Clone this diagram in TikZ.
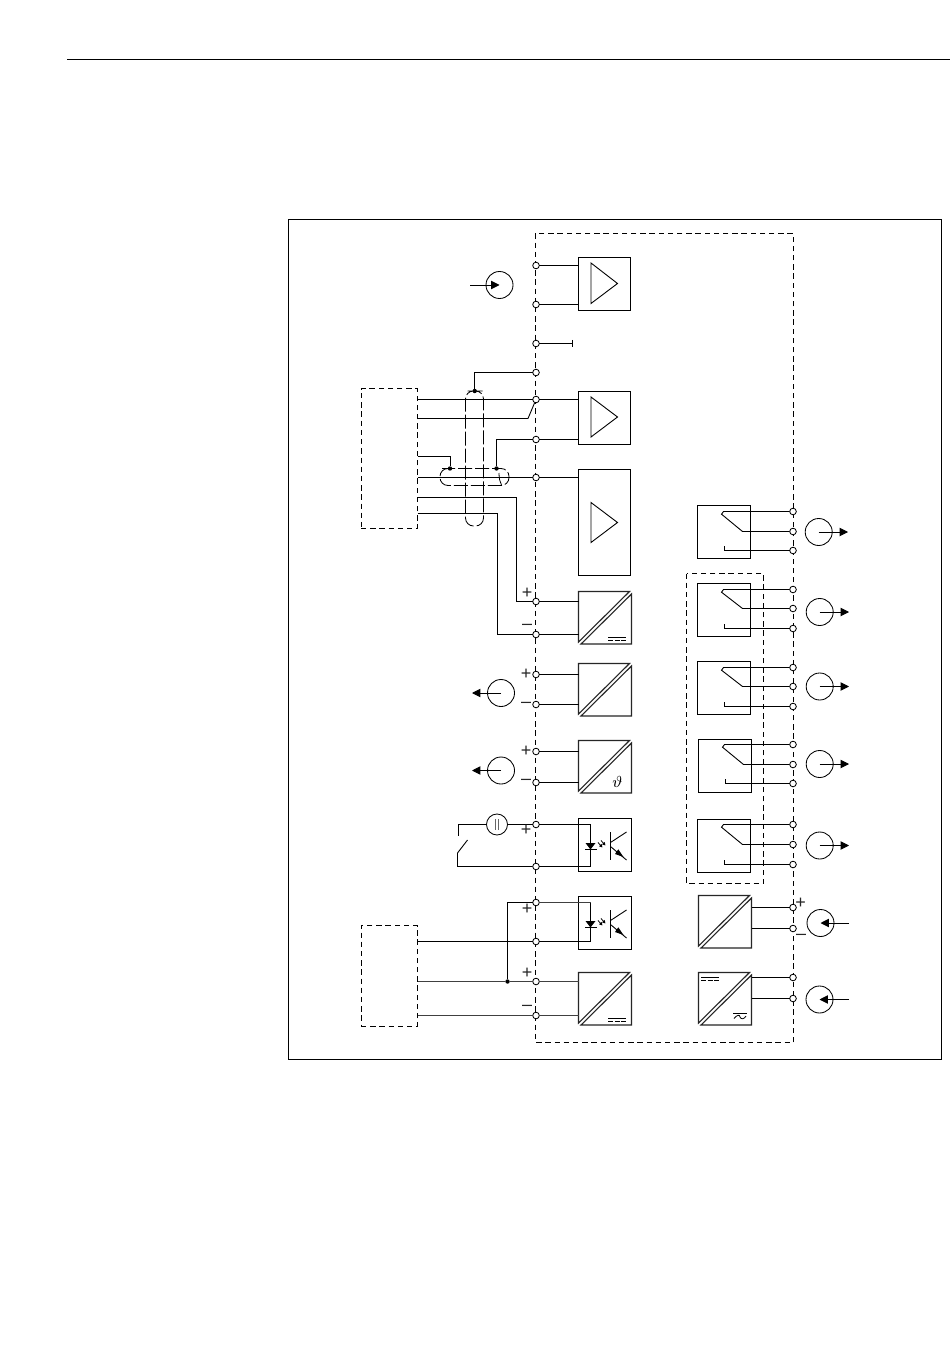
\documentclass[tikz,border=0pt]{standalone}
\usepackage{fontspec}
\setmainfont{Liberation Sans}
\usetikzlibrary{arrows.meta,calc}
\tikzset{
  x=0.5pt,y=-0.5pt,
  wire/.style={line width=0.45pt,line join=miter},
  gwire/.style={line width=0.6pt,draw=black!75,line join=miter},
  term/.style={circle,draw,line width=0.42pt,fill=white,minimum size=3.3pt,inner sep=0pt,outer sep=0pt},
  blk/.style={draw,line width=0.45pt,anchor=north west,inner sep=0pt,outer sep=0pt,minimum width=26.5pt,minimum height=26.5pt},
  ampbox/.style={blk,minimum width=26pt},
  ghost/.style={anchor=north west,inner sep=0pt,outer sep=0pt,minimum width=26.5pt,minimum height=26.25pt},
  dashline/.style={line width=0.45pt,dash pattern=on 2.7pt off 1.9pt},
  dbox/.style={draw,dashline,anchor=north west,inner sep=0pt,outer sep=0pt},
  shield/.style={draw,line width=0.42pt,dash pattern=on 7pt off 1.5pt,rounded corners=4pt},
  src/.style={circle,draw,line width=0.42pt,minimum size=13.5pt,inner sep=0pt,outer sep=0pt},
  dot/.style={circle,fill,minimum size=2.2pt,inner sep=0pt,outer sep=0pt},
  flow/.style={line width=0.45pt,-{Triangle[length=4.2pt,width=4.2pt]}},
  sign/.style={inner sep=0pt,font=\fontsize{9}{9}\selectfont,text=black!85},
}
% converter box: name, x, y
\newcommand{\convbox}[3]{%
  \node[ghost] (#1) at (#2,#3) {};
  \draw[line width=0.55pt,draw=black!85,shift={(#2,#3)}] (0,0) -- (51,0) -- (0,50.5) -- cycle;
  \draw[line width=0.55pt,draw=black!85,shift={(#2,#3)}] (53,2.5) -- (53,52.5) -- (2.5,52.5) -- cycle;
}
% equal sign for d.c.: x, y
\newcommand{\dcsign}[2]{%
  \draw[line width=0.4pt,shift={(#1,#2)}] (0,0) -- (18,0);
  \draw[line width=0.4pt,shift={(#1,#2)}] (0,3) -- (5,3) (6.5,3) -- (11.5,3) (13,3) -- (18,3);
}
% relay: name, x, y, terminal a, terminal b, terminal c
\newcommand{\relay}[6]{%
  \node[blk] (#1) at (#2,#3) {};
  \coordinate (#1p) at ({#2+26},{#3});
  \coordinate (#1q) at ({#2+45},{#3});
  \coordinate (#1r) at ({#2+27},{#3});
  \draw[wire] (#4) -- (#4 -| #1p) -- ++(-2,2.7) -- (#5 -| #1q) -- (#5);
  \draw[wire] (#6) -- (#6 -| #1r) -- ++(0,-4.5);
}
% opto coupler body: name, x, y
\newcommand{\opto}[3]{%
  \node[blk] (#1) at (#2,#3) {};
  \begin{scope}[shift={(#2,#3)}]
    \fill (7,24.5) -- (17,24.5) -- (12,31) -- cycle;
    \draw[line width=0.5pt] (6.5,31) -- (18,31);
    \draw[line width=0.4pt,-{Triangle[length=1.6pt,width=1.6pt]}] (19.5,24) -- (24,29);
    \draw[line width=0.4pt,-{Triangle[length=1.6pt,width=1.6pt]}] (22.5,22) -- (27,27);
    \draw[line width=0.5pt] (32,13.5) -- (32,41.5);
    \draw[line width=0.45pt] (32,24) -- (48,13.5);
    \draw[line width=0.45pt] (32,28) -- (48,41.5);
    \fill (45,38.5) -- (36.5,35.5) -- (39.8,30.8) -- cycle;
  \end{scope}
}
\begin{document}
\begin{tikzpicture}
\useasboundingbox (0,0) rectangle (950,1369);
\fill[white] (0,0) rectangle (950,1369);

\coordinate (ruleA) at (67,59.5);
\coordinate (ruleB) at (950,59.5);
\draw[line width=0.5pt] (ruleA) -- (ruleB);
\draw[line width=0.5pt] (288.5,219.5) rectangle (941.5,1059.5);

% housing and groups
\draw[dashline] (535.5,233.5) rectangle (793.5,1042.5);
\draw[dashline] (686.5,573.5) rectangle (763.5,883.5);
\node[dbox,minimum width=28.25pt,minimum height=70pt] (lboxA) at (361,388.5) {};
\node[dbox,minimum width=28.25pt,minimum height=50.4pt] (lboxB) at (361,925.5) {};

% left terminals
\foreach \y in {265,304,343,372,399,439,477,601,634,674,704,751,782,824,866,902,941,981,1015}
  \node[term] (l\y) at (536,{\y+0.5}) {};
% right terminals
\foreach \n/\y in {a1/511.5,a2/531.5,a3/550.5,b1/589.5,b2/608.5,b3/628.5,c1/667.5,c2/686.5,c3/706.5,d1/744.5,d2/764.5,d3/783.5,e1/824.5,e2/844.5,e3/864.5,f1/907.5,f2/928.5,g1/977.5,g2/998.5}
  \node[term] (r\n) at (793,\y) {};

% amplifiers
\node[ampbox] (ampA) at (578.5,257.5) {};
\draw[line width=0.45pt] (591,263) -- (617.5,283.5) -- (591,303.5) -- cycle;
\node[ampbox] (ampB) at (578.5,391.5) {};
\draw[line width=0.45pt] (591,397) -- (617.5,417) -- (591,437) -- cycle;
\node[ampbox,minimum height=53pt] (ampC) at (578.5,469.5) {};
\draw[line width=0.45pt] (591,502.5) -- (617.5,522.5) -- (591,542.5) -- cycle;

\draw[wire] (l265) -- (l265 -| ampA.west);
\draw[wire] (l304) -- (l304 -| ampA.west);
\coordinate (stub) at (572,343.5);
\draw[wire] (l343) -- (stub);
\draw[wire] (stub) ++(0,-3.5) -- ++(0,7);

% converters
\convbox{cvA}{578.5}{591.5}
\dcsign{608}{637.5}
\convbox{cvB}{578.5}{663.5}
\convbox{cvC}{578.5}{740.5}
\node[inner sep=0pt,font=\fontsize{8}{8}\selectfont] (theta) at (617.5,781.5) {$\vartheta$};
\convbox{cvD}{578.5}{972.5}
\dcsign{608}{1018}
\convbox{cvE}{698.5}{895.5}
\convbox{cvF}{698.5}{972.5}
\dcsign{701}{977}
\draw[line width=0.4pt] (733,1013) -- (747,1013);
\draw[line width=0.4pt] (734,1018.5) .. controls (737,1014.5) and (740,1014.5) .. (740,1017) .. controls (741,1019.5) and (744,1019.5) .. (746,1016);

% input wiring from upper sensor box
\coordinate (wa) at (417.5,399.5);
\coordinate (wb) at (417.5,418.5);
\coordinate (wbk) at (528,418.5);
\coordinate (wc) at (417.5,456.5);
\coordinate (wd) at (417.5,477.5);
\coordinate (we) at (417.5,497.5);
\coordinate (wek) at (516.5,601.5);
\coordinate (wf) at (417.5,513.5);
\coordinate (wfk) at (497.5,634.5);
\draw[wire] (wa) -- (l399);
\draw[wire] (l399) -- (l399 -| ampB.west);
\draw[wire] (wb) -- (wbk) -- (l399);
\draw[wire] (wd) -- (l477);
\draw[wire] (l477) -- (l477 -| ampC.west);
\draw[wire] (we) -| (wek) -- (l601);
\draw[wire] (wf) -| (wfk) -- (l634);
\draw[wire] (l601) -- (l601 -| cvA.west);
\draw[wire] (l634) -- (l634 -| cvA.west);
\draw[wire] (l439) -- (l439 -| ampB.west);

% shields
\draw[shield] (474.7,391) -- (483.5,391) -- (483.5,526) -- (465.5,526) -- (465.5,391) -- cycle;
\draw[shield] (450,468.5) -- (509,468.5) -- (509,485.5) -- (440,485.5) -- (440,468.5) -- cycle;
\draw[line width=0.4pt] (499,473) .. controls (499,479) and (500,482) .. (501.5,485);
\node[dot] (dtop) at (474.7,391) {};
\node[dot] (dsa) at (450,468.5) {};
\node[dot] (dsb) at (496.5,468.5) {};
\draw[wire] (dtop) |- (l372);
\draw[wire] (wc) -| (dsa);
\draw[wire] (l439) -| (dsb);

% converter wiring
\draw[wire] (l674) -- (l674 -| cvB.west);
\draw[wire] (l704) -- (l704 -| cvB.west);
\draw[wire] (l751) -- (l751 -| cvC.west);
\draw[wire] (l782) -- (l782 -| cvC.west);

% left sources
\node[src] (sA) at (499.5,285) {};
\coordinate (sAf) at (470,285);
\draw[flow] (sAf) -- (sA.center);
\node[src] (sB) at (501,693) {};
\coordinate (sBf) at (472,693);
\draw[flow] (sB.center) -- (sBf);
\node[src] (sC) at (501,770.5) {};
\coordinate (sCf) at (472,770.5);
\draw[flow] (sC.center) -- (sCf);

% opto couplers
\opto{opA}{578.5}{818.5}
\opto{opB}{578.5}{896.5}
\coordinate (oA) at (590.5,824.5);
\coordinate (oB) at (590.5,902.5);
\draw[wire] (l824) -- (oA) |- (l866);
\draw[wire] (oB) |- (l941);

% switch with power source
\node[circle,draw,line width=0.42pt,minimum size=10.5pt,inner sep=0pt,outer sep=0pt] (batt) at (497,824.5) {};
\draw[line width=0.4pt,draw=black!60] (495.2,819) -- (495.2,830) (498.8,819) -- (498.8,830);
\coordinate (swA) at (458.5,836);
\coordinate (swB) at (457.5,853);
\coordinate (swC) at (467.5,840);
\draw[wire] (batt) -- (l824);
\draw[wire] (batt) -| (swA);
\draw[wire] (l866) -| (swB) -- (swC);

% lower sensor box
\node[dot] (dj) at (507.5,981.5) {};
\coordinate (wg) at (417.5,941.5);
\coordinate (wh) at (417.5,981.5);
\coordinate (wi) at (417.5,1015.5);
\draw[wire] (wg) -- (l941);
\draw[gwire] (wh) -- (dj);
\draw[gwire] (dj) -- (l981);
\draw[wire] (dj) |- (l902);
\draw[gwire] (l902) -- (oB);
\draw[gwire] (wi) -- (l1015);
\draw[gwire] (l981) -- (l981 -| cvD.west);
\draw[gwire] (l1015) -- (l1015 -| cvD.west);

% relays
\relay{rlA}{697.5}{505.5}{ra1}{ra2}{ra3}
\relay{rlB}{697.5}{583.5}{rb1}{rb2}{rb3}
\relay{rlC}{697.5}{661.5}{rc1}{rc2}{rc3}
\relay{rlD}{698.5}{739.5}{rd1}{rd2}{rd3}
\relay{rlE}{697.5}{819.5}{re1}{re2}{re3}

% right converter wiring
\draw[wire] (rf1) -- (rf1 -| cvE.east);
\draw[wire] (rf2) -- (rf2 -| cvE.east);
\draw[wire] (rg1) -- (rg1 -| cvF.east);
\draw[wire] (rg2) -- (rg2 -| cvF.east);

% right sources
\node[src] (oa) at (818.7,532) {};
\coordinate (oaf) at (848,532);
\draw[flow] (oa.center) -- (oaf);
\node[src] (ob) at (819.7,612) {};
\coordinate (obf) at (849,612);
\draw[flow] (ob.center) -- (obf);
\node[src] (oc) at (819.7,686.5) {};
\coordinate (ocf) at (849,686.5);
\draw[flow] (oc.center) -- (ocf);
\node[src] (od) at (819.7,764) {};
\coordinate (odf) at (849,764);
\draw[flow] (od.center) -- (odf);
\node[src] (oe) at (819.7,845.5) {};
\coordinate (oef) at (849,845.5);
\draw[flow] (oe.center) -- (oef);
\node[src] (of) at (820.5,923) {};
\coordinate (off) at (849,923);
\draw[flow] (off) -- (of.center);
\node[src] (og) at (819.5,999.5) {};
\coordinate (ogf) at (849,999.5);
\draw[flow] (ogf) -- (og.center);

% polarity signs
\node[sign] (p1) at (527,593) {+};
\node[sign] (m1) at (527,627) {–};
\node[sign] (p2) at (526,674) {+};
\node[sign] (m2) at (526,705) {–};
\node[sign] (p3) at (526,751) {+};
\node[sign] (m3) at (526,782) {–};
\node[sign] (p4) at (526,830.5) {+};
\node[sign] (p5) at (527,909) {+};
\node[sign] (p6) at (527,973) {+};
\node[sign] (m6) at (527,1008) {–};
\node[sign] (p7) at (800.5,903) {+};
\node[sign] (m7) at (801,937) {–};
\end{tikzpicture}
\end{document}
